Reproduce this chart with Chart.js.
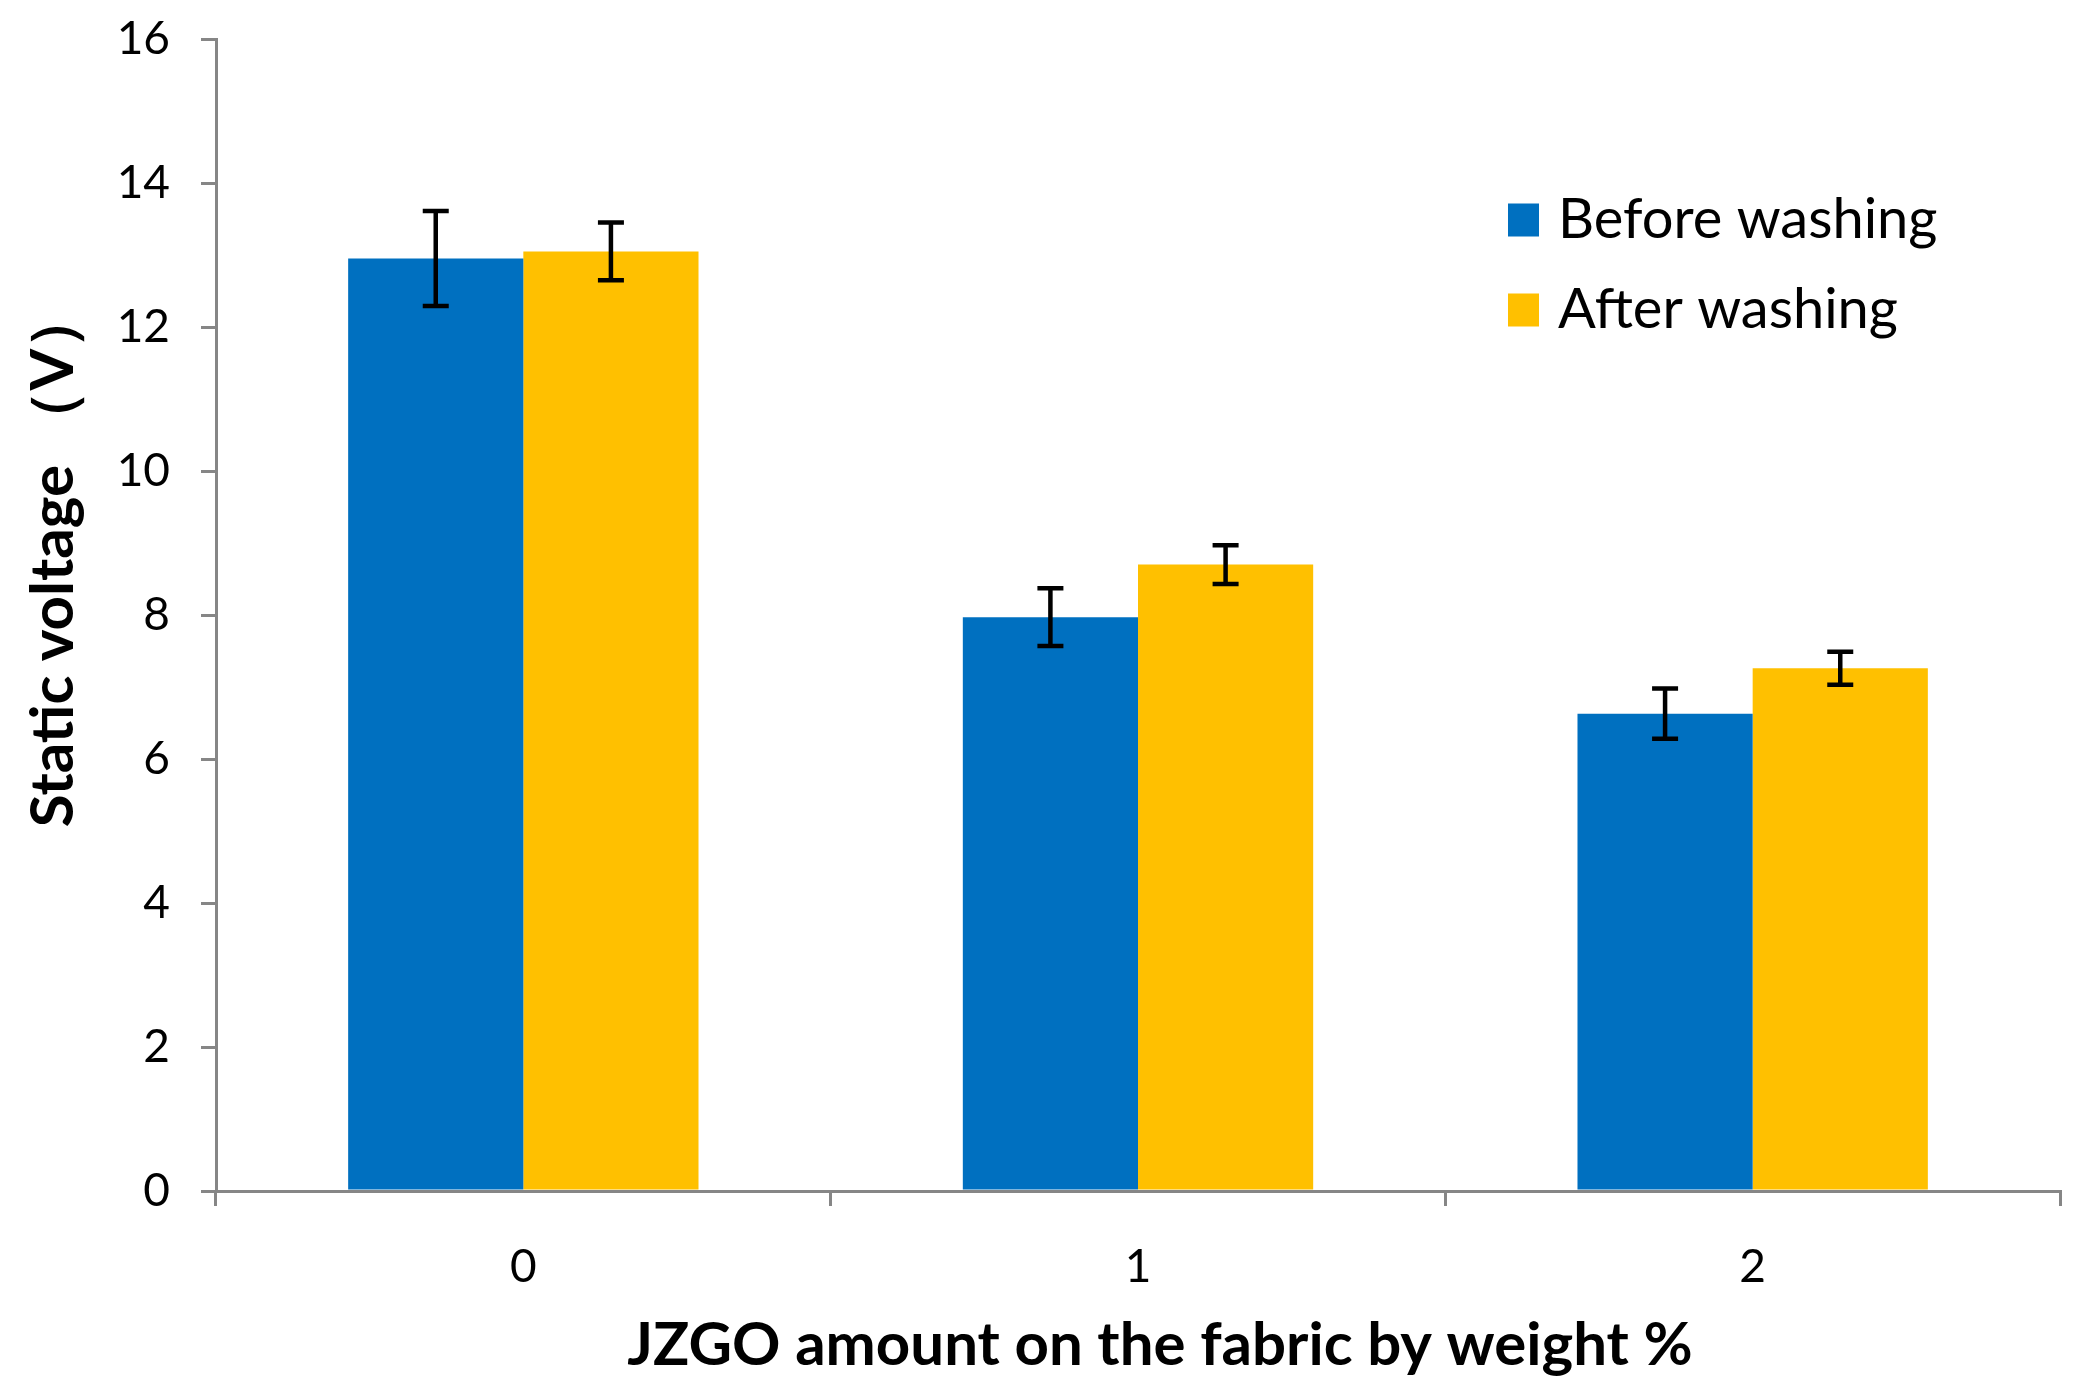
<!DOCTYPE html>
<html>
<head>
<meta charset="utf-8">
<script src="https://cdn.jsdelivr.net/npm/chart.js@4.4.1/dist/chart.umd.min.js"></script>
<style>
  html, body { margin: 0; padding: 0; background: #ffffff; }
  #wrap { width: 2076px; height: 1391px; }
</style>
</head>
<body>
<div id="wrap"><canvas id="c" width="2076" height="1391"></canvas></div>
<script>
const categories = ["0", "1", "2"];
const seriesNames = ["Before washing", "After washing"];
const beforeValues = [12.95, 7.97, 6.63];
const afterValues = [13.05, 8.70, 7.26];
const beforeErrors = [0.66, 0.40, 0.35];
const afterErrors = [0.40, 0.27, 0.23];
const yTicks = [0, 2, 4, 6, 8, 10, 12, 14, 16];
const xTitle = "JZGO amount on the fabric by weight %";
const yTitle = "Static voltage （V）";

const BLUE = "#0070C0";
const YELLOW = "#FFC000";
const AXIS = "#868686";

Chart.defaults.font.family = "Lato, 'Open Sans', sans-serif";
Chart.defaults.color = "#000000";

const errorBarPlugin = {
  id: "errorBars",
  afterDatasetsDraw(chart) {
    const ctx = chart.ctx;
    const yScale = chart.scales.y;
    ctx.save();
    ctx.strokeStyle = "#000000";
    ctx.lineWidth = 4.5;
    chart.data.datasets.forEach((ds, i) => {
      const meta = chart.getDatasetMeta(i);
      meta.data.forEach((bar, j) => {
        const v = ds.data[j];
        const e = ds.errors[j];
        const x = bar.x;
        const yHi = yScale.getPixelForValue(v + e);
        const yLo = yScale.getPixelForValue(v - e);
        const cap = 13;
        ctx.beginPath();
        ctx.moveTo(x, yHi); ctx.lineTo(x, yLo);
        ctx.moveTo(x - cap, yHi); ctx.lineTo(x + cap, yHi);
        ctx.moveTo(x - cap, yLo); ctx.lineTo(x + cap, yLo);
        ctx.stroke();
      });
    });
    ctx.restore();
  }
};

const legendPlugin = {
  id: "customLegend",
  afterDraw(chart, args, opts) {
    const ctx = chart.ctx;
    ctx.save();
    ctx.font = opts.font;
    ctx.textBaseline = "middle";
    ctx.textAlign = "left";
    chart.data.datasets.forEach((ds, i) => {
      const cy = opts.y + i * opts.rowGap;
      ctx.fillStyle = ds.backgroundColor;
      ctx.fillRect(opts.x, cy - opts.box / 2, opts.boxW, opts.box);
      ctx.fillStyle = "#000000";
      ctx.fillText(ds.label, opts.x + opts.boxW + opts.gap, cy);
    });
    ctx.restore();
  }
};

const axisTitlePlugin = {
  id: "axisTitles",
  afterDraw(chart, args, opts) {
    const ctx = chart.ctx;
    ctx.save();
    ctx.fillStyle = "#000000";
    ctx.textAlign = "center";
    ctx.textBaseline = "middle";
    ctx.font = opts.font;
    ctx.fillText(opts.xText, opts.xPos[0], opts.xPos[1]);
    ctx.translate(opts.yPos[0], opts.yPos[1]);
    ctx.rotate(-Math.PI / 2);
    ctx.fillText(opts.yText, 0, 0);
    ctx.restore();
  }
};

new Chart(document.getElementById("c"), {
  type: "bar",
  data: {
    labels: categories,
    datasets: [
      { label: seriesNames[0], data: beforeValues, errors: beforeErrors, backgroundColor: BLUE, borderWidth: 0 },
      { label: seriesNames[1], data: afterValues, errors: afterErrors, backgroundColor: YELLOW, borderWidth: 0 }
    ]
  },
  plugins: [errorBarPlugin, legendPlugin, axisTitlePlugin],
  options: {
    responsive: false,
    devicePixelRatio: 1,
    animation: false,
    layout: { padding: { top: 39, right: 16, left: 0, bottom: 0 } },
    datasets: { bar: { categoryPercentage: 0.57, barPercentage: 1.0 } },
    plugins: {
      legend: { display: false },
      tooltip: { enabled: false },
      customLegend: { x: 1508, y: 220, rowGap: 90, box: 33, boxW: 31, gap: 19, font: "56px Lato" },
      axisTitles: { font: "bold 60px Lato", xText: xTitle, yText: yTitle, xPos: [1160, 1346], yPos: [54, 558] }
    },
    scales: {
      x: {
        offset: true,
        grid: { offset: true, drawOnChartArea: false, drawTicks: true, tickLength: 15, color: AXIS, lineWidth: 3 },
        border: { display: true, color: AXIS, width: 3 },
        ticks: { font: { size: 46 }, color: "#000000", padding: 34 },
        afterFit(scale) { scale.height = 200; scale.paddingLeft = 0; scale.paddingRight = 0; }
      },
      y: {
        min: 0, max: 16,
        afterBuildTicks(scale) { scale.ticks = yTicks.map(v => ({ value: v })); },
        grid: { drawOnChartArea: false, drawTicks: true, tickLength: 15, color: AXIS, lineWidth: 3 },
        border: { display: true, color: AXIS, width: 3 },
        ticks: { font: { size: 46 }, color: "#000000", padding: 31 },
        afterFit(scale) { scale.width = 216; scale.paddingTop = 0; scale.paddingBottom = 0; }
      }
    }
  }
});
</script>
</body>
</html>
